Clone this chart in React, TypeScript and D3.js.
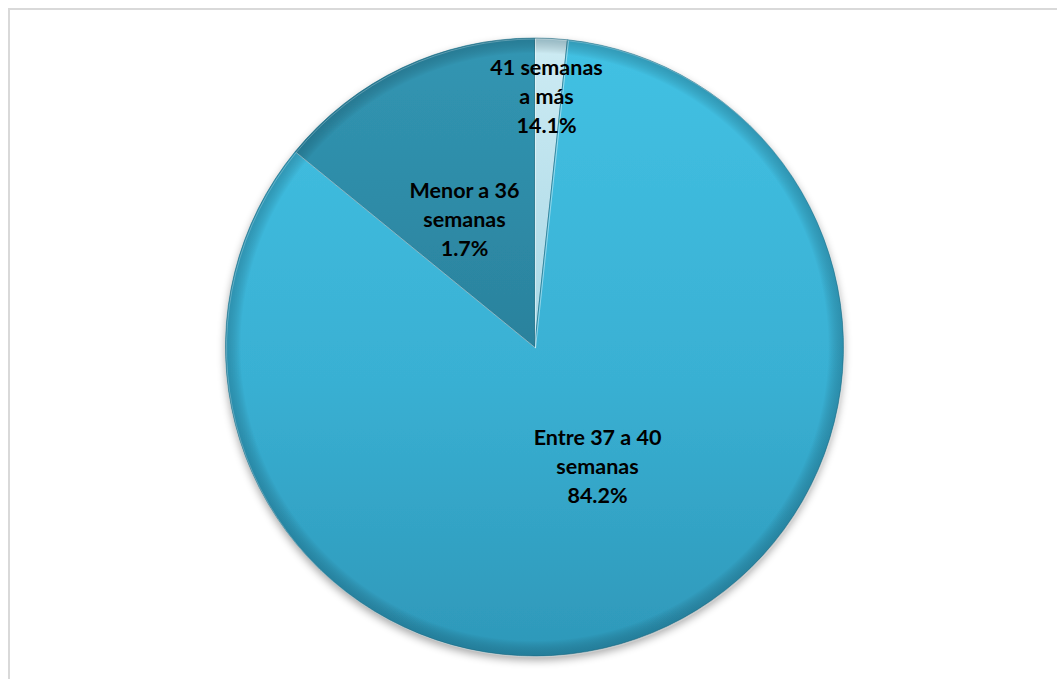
import React from "react";
import * as d3 from "d3";

const categories = ["Menor a 36 semanas", "Entre 37 a 40 semanas", "41 semanas a más"];
const values = [1.7, 84.2, 14.1];
const labelLines = [
  ["Menor a 36", "semanas", "1.7%"],
  ["Entre 37 a 40", "semanas", "84.2%"],
  ["41 semanas", "a más", "14.1%"],
];
// label anchor offsets relative to pie centre (layout, not data)
const labelOffsets = [
  [-70, -157],
  [63, 90],
  [12, -280],
];

const W = 1057;
const H = 679;
const cx = 534.5;
const cy = 347;
const R = 309;

export default function App() {
  const pie = d3
    .pie<number>()
    .sort(null)
    .startAngle(0)
    .endAngle(2 * Math.PI)
    .value((d) => d);
  const arcs = pie(values);
  const arc = d3.arc<d3.PieArcDatum<number>>().innerRadius(0).outerRadius(R);
  const fills = ["url(#gLight)", "url(#gMain)", "url(#gDark)"];

  return (
    <svg
      width={W}
      height={H}
      style={{ position: "absolute", left: 0, top: 0, background: "#fff" }}
    >
      <defs>
        <linearGradient id="gMain" x1="0" y1="0" x2="0" y2="1">
          <stop offset="0%" stopColor="#42c1e3" />
          <stop offset="55%" stopColor="#39b0d3" />
          <stop offset="100%" stopColor="#2e98b9" />
        </linearGradient>
        <linearGradient id="gDark" x1="0" y1="0" x2="0" y2="1">
          <stop offset="0%" stopColor="#3196b3" />
          <stop offset="100%" stopColor="#2b829d" />
        </linearGradient>
        <linearGradient id="gLight" x1="0" y1="0" x2="0" y2="1">
          <stop offset="0%" stopColor="#cdebf3" />
          <stop offset="100%" stopColor="#a9d8e6" />
        </linearGradient>
        <radialGradient id="rim" cx="0.5" cy="0.5" r="0.5">
          <stop offset="95%" stopColor="#000" stopOpacity="0" />
          <stop offset="100%" stopColor="#0b3f52" stopOpacity="0.3" />
        </radialGradient>
        <filter id="shadow" x="-10%" y="-10%" width="120%" height="125%">
          <feGaussianBlur in="SourceAlpha" stdDeviation="4" />
          <feOffset dx="0" dy="4" result="b" />
          <feComponentTransfer>
            <feFuncA type="linear" slope="0.35" />
          </feComponentTransfer>
          <feMerge>
            <feMergeNode />
            <feMergeNode in="SourceGraphic" />
          </feMerge>
        </filter>
      </defs>
      <rect x={9} y={9} width={1100} height={700} fill="none" stroke="#d9d9d9" strokeWidth={2} />
      <g transform={`translate(${cx},${cy})`}>
        <g filter="url(#shadow)">
          {arcs.map((a, i) => (
            <path
              key={categories[i]}
              d={arc(a) || ""}
              fill={fills[i]}
              stroke="#1f6f86"
              strokeOpacity={0.55}
              strokeWidth={1}
            />
          ))}
        </g>
        <circle r={R} fill="url(#rim)" pointerEvents="none" />
        {arcs.map((a, i) => (
          <path
            key={"hl" + i}
            d={arc(a) || ""}
            fill="none"
            stroke="#ffffff"
            strokeOpacity={0.25}
            strokeWidth={1}
            transform="translate(1,1)"
          />
        ))}
        {labelLines.map((lines, i) => (
          <text
            key={"t" + i}
            x={labelOffsets[i][0]}
            y={labelOffsets[i][1]}
            textAnchor="middle"
            fontFamily="Lato, 'Open Sans', sans-serif"
            fontWeight="bold"
            fontSize={21.5}
            fill="#000"
          >
            {lines.map((l, j) => (
              <tspan key={j} x={labelOffsets[i][0]} dy={j === 0 ? 8 : 29}>
                {l}
              </tspan>
            ))}
          </text>
        ))}
      </g>
    </svg>
  );
}
